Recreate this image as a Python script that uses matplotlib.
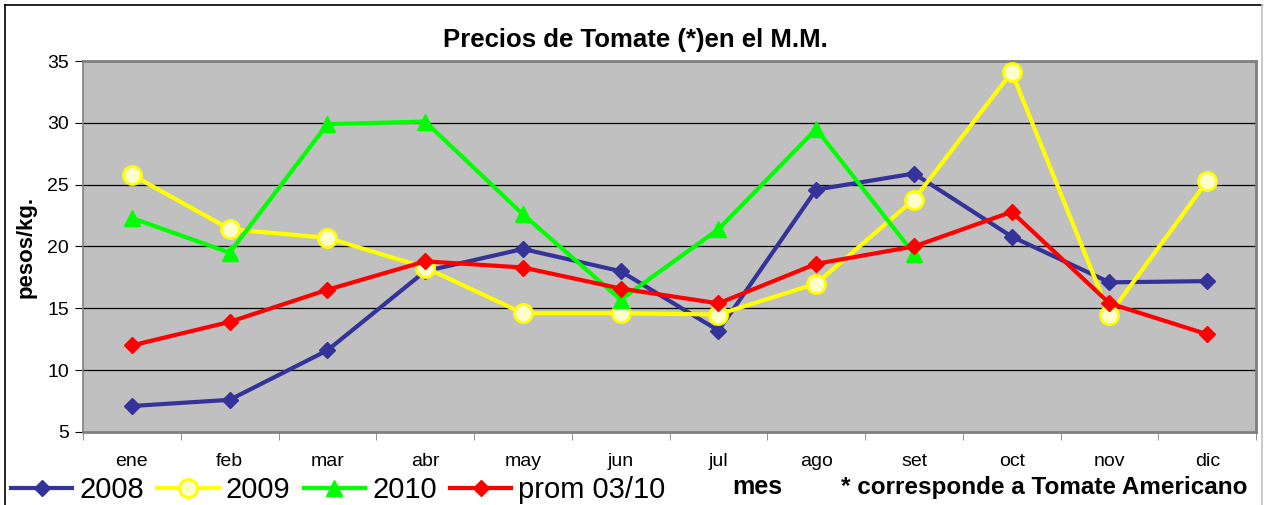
import matplotlib
matplotlib.use('Agg')
import matplotlib.pyplot as plt
from matplotlib.lines import Line2D

plt.rcParams['font.family'] = ['Liberation Sans', 'DejaVu Sans']

# data
meses = ['ene', 'feb', 'mar', 'abr', 'may', 'jun', 'jul', 'ago', 'set', 'oct', 'nov', 'dic']
p2008 = [7.1, 7.6, 11.6, 18.0, 19.8, 18.0, 13.2, 24.6, 25.9, 20.8, 17.1, 17.2]
p2009 = [25.8, 21.4, 20.7, 18.3, 14.6, 14.6, 14.5, 17.0, 23.8, 34.1, 14.5, 25.3]
p2010 = [22.3, 19.5, 29.9, 30.1, 22.6, 15.7, 21.4, 29.5, 19.4]
prom = [12.0, 13.9, 16.5, 18.8, 18.3, 16.6, 15.4, 18.6, 20.0, 22.8, 15.4, 12.9]
y_ticks = [5, 10, 15, 20, 25, 30, 35]


def main():
    fig = plt.figure(figsize=(12.65, 5.05), dpi=100)
    ax = fig.add_axes([0.0656, 0.1446, 0.9274, 0.7346])
    ax.set_facecolor('#C0C0C0')

    x = list(range(len(meses)))
    ax.plot(x, p2008, color='#333399', lw=3, marker='D', ms=8.5,
            mec='#333399', mfc='#333399', label='2008', zorder=3)
    ax.plot(x, p2009, color='#FFFF00', lw=3, marker='o', ms=13,
            mec='#FFFF00', mfc='#FFFFCC', mew=2, label='2009', zorder=3)
    ax.plot(x[:len(p2010)], p2010, color='#00FF00', lw=3, marker='^', ms=12,
            mec='#00FF00', mfc='#00FF00', label='2010', zorder=3)
    ax.plot(x, prom, color='#FF0000', lw=3, marker='D', ms=8.5,
            mec='#FF0000', mfc='#FF0000', label='prom 03/10', zorder=4)

    ax.set_xlim(-0.5, len(meses) - 0.5)
    ax.set_ylim(5, 35)
    ax.set_yticks(y_ticks)
    ax.set_yticklabels([str(v) for v in y_ticks], fontsize=14)
    ax.set_xticks(x)
    ax.set_xticklabels(meses, fontsize=14)
    ax.set_xticks([i - 0.5 for i in range(len(meses) + 1)], minor=True)
    ax.tick_params(axis='x', which='major', length=0, pad=15)
    ax.tick_params(axis='x', which='minor', length=6, direction='out', color='#808080')
    ax.tick_params(axis='y', length=6, direction='out', pad=4)

    for v in y_ticks[1:-1]:
        ax.axhline(v, color='black', lw=0.9, zorder=1)

    for side in ['top', 'right', 'bottom']:
        ax.spines[side].set_color('#808080')
        ax.spines[side].set_linewidth(2)
    ax.spines['left'].set_color('#808080')
    ax.spines['left'].set_linewidth(1.2)

    ax.set_ylabel('pesos/kg.', fontsize=16, fontweight='bold', labelpad=8)
    fig.text(0.502, 0.921, 'Precios de Tomate (*)en el M.M.', ha='center', va='center',
             fontsize=18.5, fontweight='bold')

    fig.legend(loc='center left', bbox_to_anchor=(0.004, 0.03), ncol=4, frameon=False,
               fontsize=21, handlelength=2.1, handletextpad=0.25, columnspacing=0.45,
               borderaxespad=0.0, borderpad=0.2)
    fig.text(0.579, 0.035, 'mes', ha='left', va='center', fontsize=18, fontweight='bold')
    fig.text(0.665, 0.035, '* corresponde a Tomate Americano', ha='left', va='center',
             fontsize=17.5, fontweight='bold')

    # outer chart border
    fig.add_artist(Line2D([0.004, 0.998], [0.99, 0.99], color='black', lw=1.2,
                          transform=fig.transFigure))
    fig.add_artist(Line2D([0.004, 0.004], [0.0, 0.99], color='black', lw=1.2,
                          transform=fig.transFigure))
    fig.add_artist(Line2D([0.998, 0.998], [0.0, 0.99], color='#C0C0C0', lw=1.2,
                          transform=fig.transFigure))

    fig.savefig('out.png', dpi=100)


if __name__ == '__main__':
    main()
